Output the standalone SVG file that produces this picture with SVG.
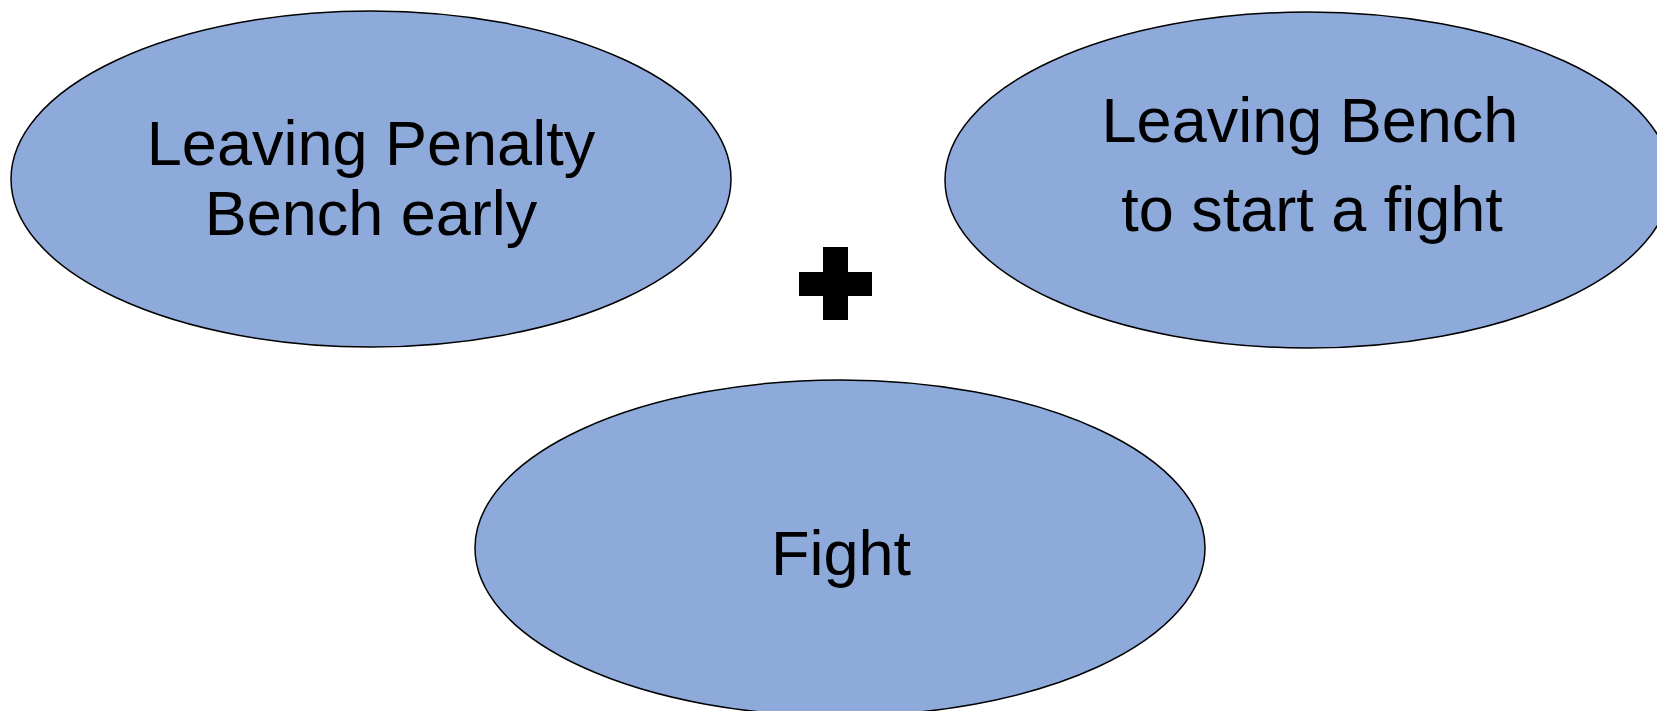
<svg xmlns="http://www.w3.org/2000/svg" width="1657" height="711" viewBox="0 0 1657 711">
  <defs>
    <style type="text/css">
      .label { font-family: "Liberation Sans", Arial, sans-serif; font-size: 63px; }
    </style>
  </defs>
  <rect x="0" y="0" width="1657" height="711" fill="#ffffff"/>
  <g id="node-penalty-bench">
    <ellipse cx="371" cy="179" rx="360" ry="168" fill="#8eaadb" stroke="#000000" stroke-width="1.5"/>
    <text class="label" x="371" y="165" text-anchor="middle" fill="#000000" font-family="Liberation Sans, Arial, sans-serif" font-size="63">Leaving Penalty</text>
    <text class="label" x="371" y="235" text-anchor="middle" fill="#000000" font-family="Liberation Sans, Arial, sans-serif" font-size="63">Bench early</text>
  </g>
  <g id="node-leaving-bench">
    <ellipse cx="1308" cy="180" rx="363" ry="168" fill="#8eaadb" stroke="#000000" stroke-width="1.5"/>
    <text class="label" x="1310" y="142" text-anchor="middle" fill="#000000" font-family="Liberation Sans, Arial, sans-serif" font-size="63">Leaving Bench</text>
    <text class="label" x="1312" y="231" text-anchor="middle" fill="#000000" font-family="Liberation Sans, Arial, sans-serif" font-size="63">to start a fight</text>
  </g>
  <g id="node-fight">
    <ellipse cx="840" cy="548" rx="365" ry="168" fill="#8eaadb" stroke="#000000" stroke-width="1.5"/>
    <text class="label" x="841" y="575" text-anchor="middle" fill="#000000" font-family="Liberation Sans, Arial, sans-serif" font-size="63">Fight</text>
  </g>
  <g id="connectors">
    <path id="plus" d="M823 247 L848 247 L848 272 L872 272 L872 296 L848 296 L848 320 L823 320 L823 296 L799 296 L799 272 L823 272 Z" fill="#000000"/>
  </g>
</svg>
